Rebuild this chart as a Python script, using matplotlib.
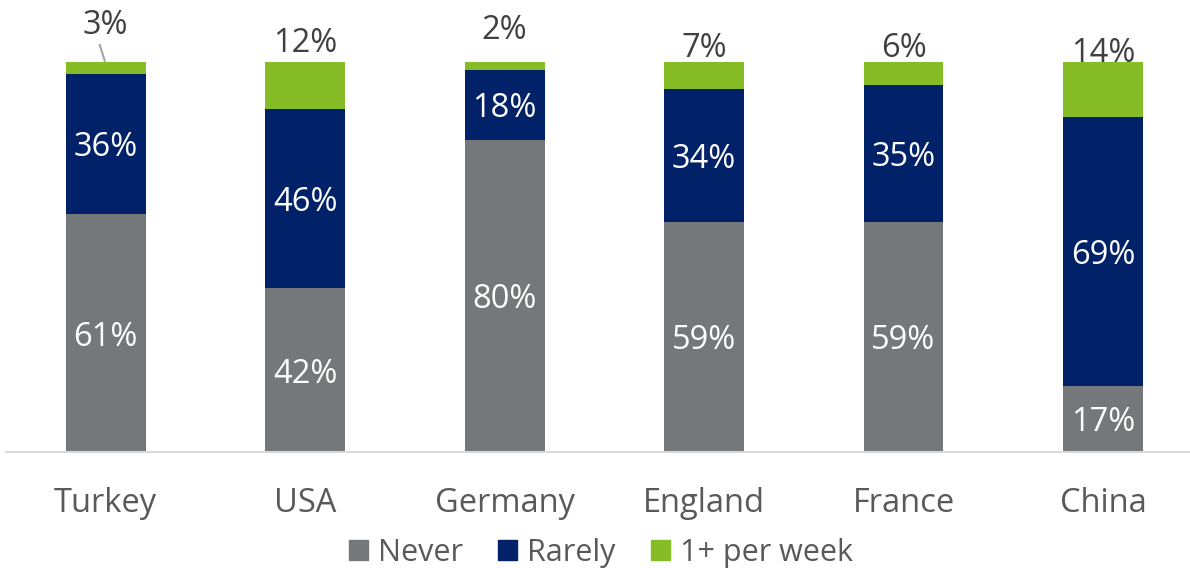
import matplotlib
matplotlib.use("Agg")
import matplotlib.pyplot as plt
from matplotlib.patches import Patch

plt.rcParams['font.family'] = ['Open Sans', 'DejaVu Sans']

categories = ["Turkey", "USA", "Germany", "England", "France", "China"]
never = [61, 42, 80, 59, 59, 17]
rarely = [36, 46, 18, 34, 35, 69]
weekly = [3, 12, 2, 7, 6, 14]
series_names = ["Never", "Rarely", "1+ per week"]

# label offset above the bar top (data units) for the small top segment labels
top_label_offset = [10.5, 5.8, 9.0, 4.6, 4.6, 3.3]

C_NEVER = "#75787B"
C_RARELY = "#012169"
C_WEEK = "#86BC25"

W, H = 1190, 568
fig = plt.figure(figsize=(W / 100, H / 100), dpi=100)
ax_left, ax_right = 6, 1190
ax_bottom_px, ax_top_px = 452, 62
ax = fig.add_axes([ax_left / W, (H - ax_bottom_px) / H,
                   (ax_right - ax_left) / W, (ax_bottom_px - ax_top_px) / H])

x = list(range(len(categories)))
bw = 0.4
ax.bar(x, never, width=bw, color=C_NEVER, label=series_names[0])
ax.bar(x, rarely, width=bw, bottom=never, color=C_RARELY, label=series_names[1])
bottom3 = [a + b for a, b in zip(never, rarely)]
ax.bar(x, weekly, width=bw, bottom=bottom3, color=C_WEEK, label=series_names[2])

fs = 23.5
for i in x:
    ax.text(i, never[i] / 2, f"{never[i]}%", ha='center', va='center_baseline',
            color='white', fontsize=fs)
    ax.text(i, never[i] + rarely[i] / 2, f"{rarely[i]}%", ha='center', va='center_baseline',
            color='white', fontsize=fs)
    top = never[i] + rarely[i] + weekly[i]
    ax.text(i, top + top_label_offset[i], f"{weekly[i]}%", ha='center', va='center_baseline',
            color='#404040', fontsize=fs, clip_on=False)

# leader line for Turkey's small label
ax.plot([-0.03, -0.005], [104.4, 100.3], color='#A6A6A6', lw=1.5, clip_on=False)

ax.set_xlim(-0.5, (ax_right - 106) / 199.4)
ax.set_ylim(0, 100)
ax.set_xticks(x)
ax.set_xticklabels(categories, fontsize=fs, color='#595959')
ax.tick_params(axis='x', length=0, pad=25)
ax.set_yticks([])
for s in ['top', 'right', 'left']:
    ax.spines[s].set_visible(False)
ax.spines['bottom'].set_color('#D9D9D9')
ax.spines['bottom'].set_linewidth(1.5)

handles = [Patch(color=C_NEVER), Patch(color=C_RARELY), Patch(color=C_WEEK)]
leg = fig.legend(handles, series_names, loc='center', ncol=3,
                 bbox_to_anchor=(601 / W, 1 - 553 / H), frameon=False,
                 fontsize=22, handlelength=0.62, handleheight=0.62,
                 handletextpad=0.33, columnspacing=1.15, borderaxespad=0,
                 borderpad=0)
for t in leg.get_texts():
    t.set_color('#595959')

fig.savefig("out.png", dpi=100)
